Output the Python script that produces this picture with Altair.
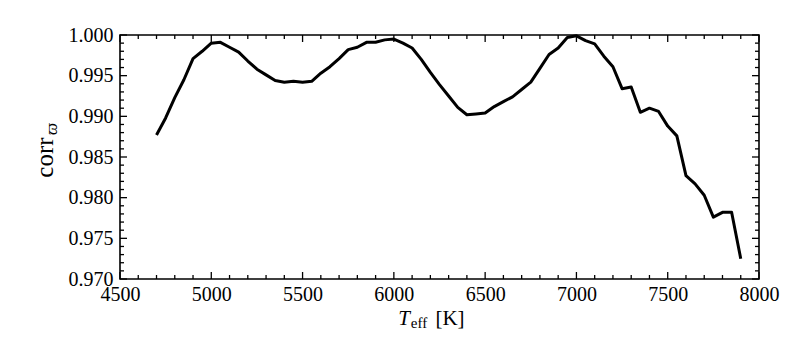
import altair as alt
import pandas as pd

# ---------------- data ----------------
teff = [4700, 4750, 4800, 4850, 4900, 4950, 5000, 5050, 5100, 5150,
        5200, 5250, 5300, 5350, 5400, 5450, 5500, 5550, 5600, 5650,
        5700, 5750, 5800, 5850, 5900, 5950, 6000, 6050, 6100, 6150,
        6200, 6250, 6300, 6350, 6400, 6450, 6500, 6550, 6600, 6650,
        6700, 6750, 6800, 6850, 6900, 6950, 7000, 7050, 7100, 7150,
        7200, 7250, 7300, 7350, 7400, 7450, 7500, 7550, 7600, 7650,
        7700, 7750, 7800, 7850, 7900]
corr = [0.9877, 0.9898, 0.9923, 0.9945, 0.9971, 0.9980, 0.9990, 0.9991, 0.9985, 0.9979,
        0.9968, 0.9958, 0.9951, 0.9944, 0.9942, 0.9943, 0.9942, 0.9943, 0.9953, 0.9961,
        0.9971, 0.9982, 0.9985, 0.9991, 0.9991, 0.9994, 0.9995, 0.9990, 0.9984, 0.9970,
        0.9954, 0.9939, 0.9925, 0.9911, 0.9902, 0.9903, 0.9904, 0.9912, 0.9918, 0.9924,
        0.9933, 0.9942, 0.9959, 0.9976, 0.9984, 0.9997, 0.9999, 0.9993, 0.9989, 0.9974,
        0.9961, 0.9934, 0.9936, 0.9905, 0.9910, 0.9906, 0.9888, 0.9876, 0.9827, 0.9817,
        0.9803, 0.9776, 0.9782, 0.9782, 0.9725]

x_major = [4500, 5000, 5500, 6000, 6500, 7000, 7500, 8000]
x_minor = [t for t in range(4600, 8000, 100) if t % 500 != 0]
y_major = [0.970, 0.975, 0.980, 0.985, 0.990, 0.995, 1.000]
y_minor = [round(0.970 + i * 0.001, 3) for i in range(1, 30) if i % 5 != 0]

x_title_parts = ["T", "eff", "[K]"]
y_title_parts = ["corr", "ϖ"]

# ---------------- layout ----------------
W, H = 639, 244
FONT = "Liberation Serif"
XDOM = [4500, 8000]
YDOM = [0.970, 1.000]

df = pd.DataFrame({"teff": teff, "corr": corr})

xs = alt.Scale(domain=XDOM, nice=False, zero=False)
ys = alt.Scale(domain=YDOM, nice=False, zero=False)

xaxis = alt.Axis(values=x_major, format="d", ticks=False, domain=False, grid=False,
                 title=None, labelFont=FONT, labelFontSize=20, labelColor="black",
                 labelPadding=5, labelFlush=False, labelOverlap=False)
yaxis = alt.Axis(values=y_major, format=".3f", ticks=False, domain=False, grid=False,
                 title=y_title_parts[0], titleFont=FONT, titleFontSize=25,
                 titleFontWeight="normal", titleColor="black", titleAngle=270,
                 titleAlign="center", titleBaseline="alphabetic",
                 titleX=-68, titleY=122,
                 labelFont=FONT, labelFontSize=20, labelColor="black",
                 labelPadding=7, labelFlush=False, labelOverlap=False)

line = alt.Chart(df).mark_line(color="black", strokeWidth=3, strokeJoin="round").encode(
    x=alt.X("teff:Q", scale=xs, axis=xaxis),
    y=alt.Y("corr:Q", scale=ys, axis=yaxis),
)


def xticks(vals, length):
    d = pd.DataFrame({"teff": vals})
    base = alt.Chart(d).mark_rule(color="black", strokeWidth=1.3)
    bottom = base.encode(x=alt.X("teff:Q", scale=xs, axis=xaxis),
                         y=alt.value(H), y2=alt.value(H - length))
    top = base.encode(x=alt.X("teff:Q", scale=xs, axis=xaxis),
                      y=alt.value(0), y2=alt.value(length))
    return [bottom, top]


def yticks(vals, length):
    d = pd.DataFrame({"corr": vals})
    base = alt.Chart(d).mark_rule(color="black", strokeWidth=1.3)
    left = base.encode(y=alt.Y("corr:Q", scale=ys, axis=yaxis),
                       x=alt.value(0), x2=alt.value(length))
    right = base.encode(y=alt.Y("corr:Q", scale=ys, axis=yaxis),
                        x=alt.value(W), x2=alt.value(W - length))
    return [left, right]


ticks = xticks(x_major, 7) + xticks(x_minor, 4) + yticks(y_major, 7) + yticks(y_minor, 4)


def label(txt, x, y, size, style="normal", angle=0):
    return alt.Chart(pd.DataFrame({"t": [txt]})).mark_text(
        font=FONT, fontSize=size, fontStyle=style, color="black",
        align="center", baseline="alphabetic", angle=angle
    ).encode(text="t:N", x=alt.value(x), y=alt.value(y))


titles = [
    label(x_title_parts[0], 284, 290, 21, style="italic"),
    label(x_title_parts[1], 299, 293, 15),
    label(x_title_parts[2], 330, 290, 21),
    label(y_title_parts[1], -63, 94, 17, style="italic", angle=270),
]

chart = alt.layer(line, *ticks, *titles).properties(
    width=W, height=H,
    autosize=alt.AutoSizeParams(type="none"),
    padding={"left": 112, "top": 27, "right": 25, "bottom": 55},
).configure(background="white", font=FONT).configure_axis(
    labelFont=FONT, titleFont=FONT
).configure_view(stroke="black", strokeWidth=1.6)

chart.save("out.html", embed_options={"renderer": "svg", "actions": False})
